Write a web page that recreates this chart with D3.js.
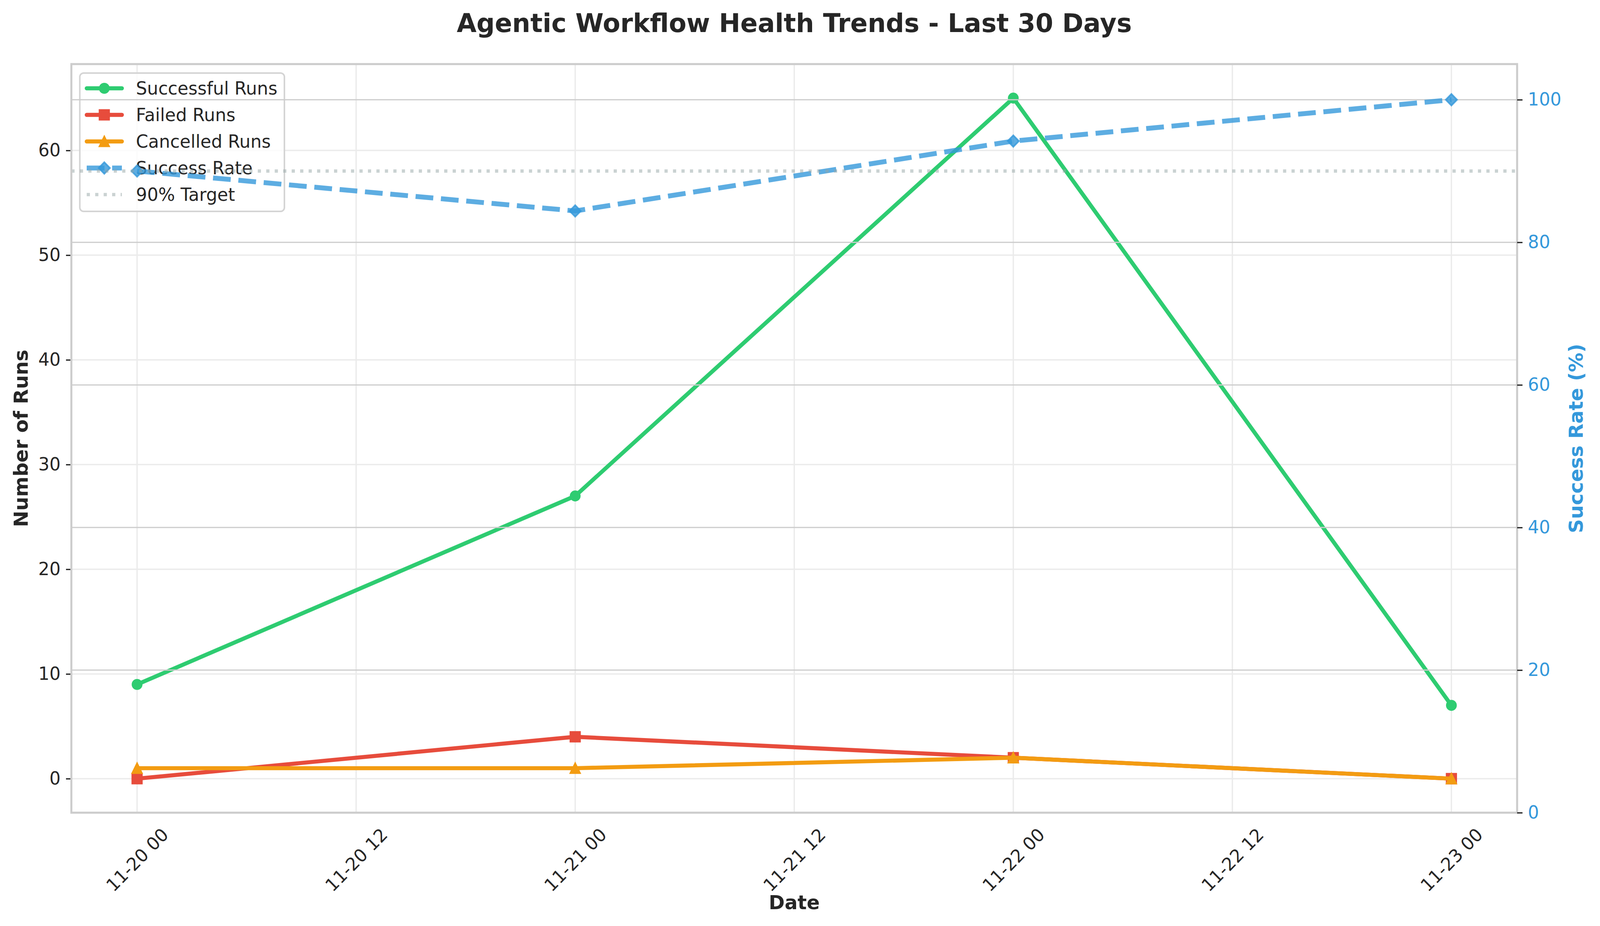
<!DOCTYPE html>
<html>
<head>
<meta charset="utf-8">
<script src="https://cdn.jsdelivr.net/npm/d3@7"></script>
<style>
html,body{margin:0;padding:0;background:#fff;overflow:hidden;}
svg{display:block;}
text{font-family:"DejaVu Sans",sans-serif;}
</style>
</head>
<body>
<script>
// chart values
var dates=["2024-11-20","2024-11-21","2024-11-22","2024-11-23"];
var successful=[9,27,65,7];
var failed=[0,4,2,0];
var cancelled=[1,1,2,0];
var successRate=[90.0,84.4,94.2,100.0];
var targetRate=90;
var leftTicks=[0,10,20,30,40,50,60];
var rightTicks=[0,20,40,60,80,100];
var seriesNames=["Successful Runs","Failed Runs","Cancelled Runs","Success Rate","90% Target"];

var W=4170,H=2370;
var pt=300/72; //figure was 300 dpi
var m={left:186,right:216,top:164,bottom:290};
var iw=W-m.left-m.right, ih=H-m.top-m.bottom;
var ink="#262626", blue="#3498db";

var parse=d3.utcParse("%Y-%m-%d");
var days=dates.map(parse);

//viewBox so the whole figure fits the window whatever its real size
var svg=d3.select("body").append("svg")
	.attr("viewBox","0 0 "+W+" "+H)
	.attr("preserveAspectRatio","none")
	.style("width","100vw").style("height","100vh")
	.style("background","#fff");
var g=svg.append("g").attr("transform","translate("+m.left+","+m.top+")");

//5% margins like the original
var t0=+days[0], t1=+days[days.length-1], tp=(t1-t0)*0.05;
var x=d3.scaleUtc().domain([new Date(t0-tp),new Date(t1+tp)]).range([0,iw]);
var allRuns=successful.concat(failed,cancelled);
var lo=d3.min(allRuns), hi=d3.max(allRuns), yp=(hi-lo)*0.05;
var y=d3.scaleLinear().domain([lo-yp,hi+yp]).range([ih,0]);
var y2=d3.scaleLinear().domain([0,105]).range([ih,0]);
var xTicks=x.ticks(d3.utcHour.every(12));

// marker shapes in pixels
function marker(type,s){
	var p=d3.path(), h=s/2;
	if(type=="circle"){p.arc(0,0,h,0,2*Math.PI);}
	else if(type=="square"){p.rect(-h,-h,s,s);}
	else if(type=="triangle"){p.moveTo(0,-h);p.lineTo(h,h);p.lineTo(-h,h);p.closePath();}
	else if(type=="diamond"){var d=h*Math.SQRT2;p.moveTo(0,-d);p.lineTo(d,0);p.lineTo(0,d);p.lineTo(-d,0);p.closePath();}
	return p.toString();
}

// ----- left axes (ax1) -----
var grid1=g.append("g").attr("class","grid1");
grid1.selectAll(".vg").data(xTicks).enter().append("line")
	.attr("x1",function(d){return x(d);}).attr("x2",function(d){return x(d);})
	.attr("y1",0).attr("y2",ih)
	.style("stroke","#ebebeb").style("stroke-width",3.5);
grid1.selectAll(".hg").data(leftTicks).enter().append("line")
	.attr("x1",0).attr("x2",iw)
	.attr("y1",function(d){return y(d);}).attr("y2",function(d){return y(d);})
	.style("stroke","#ebebeb").style("stroke-width",3.5);

var runSeries=[
	{name:seriesNames[0],vals:successful,color:"#2ecc71",mk:"circle",ms:24},
	{name:seriesNames[1],vals:failed,color:"#e74c3c",mk:"square",ms:25},
	{name:seriesNames[2],vals:cancelled,color:"#f39c12",mk:"triangle",ms:25}
];
var line=d3.line().x(function(d){return x(d.date);}).y(function(d){return y(d.v);});

runSeries.forEach(function(s){
	var pts=days.map(function(d,i){return {date:d,v:s.vals[i]};});
	var sg=g.append("g");
	sg.append("path").datum(pts)
		.attr("d",line)
		.style("fill","none").style("stroke",s.color)
		.style("stroke-width",2.5*pt).style("stroke-linejoin","round");
	sg.selectAll(".mk").data(pts).enter().append("path")
		.attr("d",marker(s.mk,s.ms))
		.attr("transform",function(d){return "translate("+x(d.date)+","+y(d.v)+")";})
		.style("fill",s.color).style("stroke",s.color).style("stroke-width",pt);
});

// left axis
var axL=g.append("g").call(d3.axisLeft(y).tickValues(leftTicks).tickSize(14).tickPadding(14));
axL.select(".domain").remove();
axL.selectAll(".tick line").style("stroke",ink).style("stroke-width",3.3);
axL.selectAll(".tick text").style("fill",ink).style("font-size",(11*pt)+"px").style("font-family","DejaVu Sans");

// bottom axis, rotated labels
var axB=g.append("g").attr("transform","translate(0,"+ih+")")
	.call(d3.axisBottom(x).tickValues(xTicks).tickFormat(d3.utcFormat("%m-%d %H")).tickSize(0));
axB.select(".domain").remove();
axB.selectAll(".tick text").style("fill",ink).style("font-size",(11*pt)+"px").style("font-family","DejaVu Sans")
	.each(function(){
		var w=this.getComputedTextLength(), hh=11*pt*1.164;
		var bb=(w+hh)*Math.SQRT1_2;
		d3.select(this).attr("y",0).attr("dy","0.35em").attr("text-anchor","middle")
			.attr("transform","translate(0,"+(29+bb/2)+") rotate(-45)");
	});

// legend (belongs to ax1, so ax2 draws over it)
var fs=11*pt;
var legRows=[
	{name:seriesNames[0],color:"#2ecc71",mk:"circle",ms:24,dash:null,op:1,lw:2.5*pt},
	{name:seriesNames[1],color:"#e74c3c",mk:"square",ms:25,dash:null,op:1,lw:2.5*pt},
	{name:seriesNames[2],color:"#f39c12",mk:"triangle",ms:25,dash:null,op:1,lw:2.5*pt},
	{name:seriesNames[3],color:blue,mk:"diamond",ms:20.8,dash:(3.7*3*pt)+","+(1.6*3*pt),op:0.8,lw:3*pt},
	{name:seriesNames[4],color:"#95a5a6",mk:null,ms:0,dash:(2*pt)+","+(1.65*2*pt),op:0.5,lw:2*pt}
];
var lg=g.append("g").attr("class","legend");
var boxX=22, boxY=23, hx0=40, hx1=hx0+2*fs, tx=hx1+0.8*fs;
var box=lg.append("rect").attr("x",boxX).attr("y",boxY).attr("rx",10).attr("ry",10)
	.attr("height",354)
	.style("fill","#fff").style("fill-opacity",0.8)
	.style("stroke","#d4d4d4").style("stroke-width",4);
var maxLen=0;
legRows.forEach(function(r,i){
	var cy=62+i*68;
	lg.append("line").attr("x1",hx0).attr("x2",hx1).attr("y1",cy).attr("y2",cy)
		.style("stroke",r.color).style("stroke-width",r.lw).style("stroke-opacity",r.op)
		.style("stroke-linecap",r.dash?"butt":"round")
		.style("stroke-dasharray",r.dash);
	if(r.mk){
		lg.append("path").attr("d",marker(r.mk,r.ms))
			.attr("transform","translate("+((hx0+hx1)/2)+","+cy+")")
			.style("fill",r.color).style("stroke",r.color).style("stroke-width",pt)
			.style("fill-opacity",r.op).style("stroke-opacity",r.op);
	}
	var t=lg.append("text").attr("x",tx).attr("y",cy).attr("dy","0.35em")
		.style("font-size",fs+"px").style("fill",ink).text(r.name);
	maxLen=Math.max(maxLen,t.node().getComputedTextLength());
});
box.attr("width",tx+maxLen+0.4*fs-boxX);

// ----- right axes (ax2), drawn on top -----
g.append("g").selectAll("line").data(rightTicks).enter().append("line")
	.attr("x1",0).attr("x2",iw)
	.attr("y1",function(d){return y2(d);}).attr("y2",function(d){return y2(d);})
	.style("stroke","#cccccc").style("stroke-width",3);

var ratePts=days.map(function(d,i){return {date:d,v:successRate[i]};});
var line2=d3.line().x(function(d){return x(d.date);}).y(function(d){return y2(d.v);});
var rg=g.append("g");
rg.append("path").datum(ratePts).attr("d",line2)
	.style("fill","none").style("stroke",blue).style("stroke-opacity",0.8)
	.style("stroke-width",3*pt).style("stroke-dasharray",(3.7*3*pt)+","+(1.6*3*pt));
rg.selectAll(".mk").data(ratePts).enter().append("path")
	.attr("d",marker("diamond",20.8))
	.attr("transform",function(d){return "translate("+x(d.date)+","+y2(d.v)+")";})
	.style("fill",blue).style("fill-opacity",0.8)
	.style("stroke",blue).style("stroke-opacity",0.8).style("stroke-width",pt);

g.append("line").datum(targetRate)
	.attr("x1",0).attr("x2",iw)
	.attr("y1",function(d){return y2(d);}).attr("y2",function(d){return y2(d);})
	.style("stroke","#95a5a6").style("stroke-opacity",0.5)
	.style("stroke-width",2*pt).style("stroke-dasharray",(2*pt)+","+(1.65*2*pt));

// frame
g.append("rect").attr("x",0).attr("y",0).attr("width",iw).attr("height",ih)
	.style("fill","none").style("stroke","#cccccc").style("stroke-width",1.25*pt);

var axR=g.append("g").attr("transform","translate("+iw+",0)")
	.call(d3.axisRight(y2).tickValues(rightTicks).tickSize(14).tickPadding(14));
axR.select(".domain").remove();
axR.selectAll(".tick line").style("stroke",ink).style("stroke-width",3.3);
axR.selectAll(".tick text").style("fill",blue).style("font-size",(11*pt)+"px").style("font-family","DejaVu Sans");

// titles
svg.append("text").attr("x",m.left+iw/2).attr("y",82)
	.attr("text-anchor","middle")
	.style("font-size",(16*pt)+"px").style("font-weight","bold").style("fill",ink)
	.text("Agentic Workflow Health Trends - Last 30 Days");
svg.append("text").attr("x",m.left+iw/2).attr("y",2327)
	.attr("text-anchor","middle")
	.style("font-size",(12*pt)+"px").style("font-weight","bold").style("fill",ink)
	.text("Date");
svg.append("text").attr("transform","translate(72,"+(m.top+ih/2)+") rotate(-90)")
	.attr("text-anchor","middle")
	.style("font-size",(12*pt)+"px").style("font-weight","bold").style("fill",ink)
	.text("Number of Runs");
svg.append("text").attr("transform","translate(4125,"+(m.top+ih/2)+") rotate(-90)")
	.attr("text-anchor","middle")
	.style("font-size",(12*pt)+"px").style("font-weight","bold").style("fill",blue)
	.text("Success Rate (%)");
</script>
</body>
</html>
